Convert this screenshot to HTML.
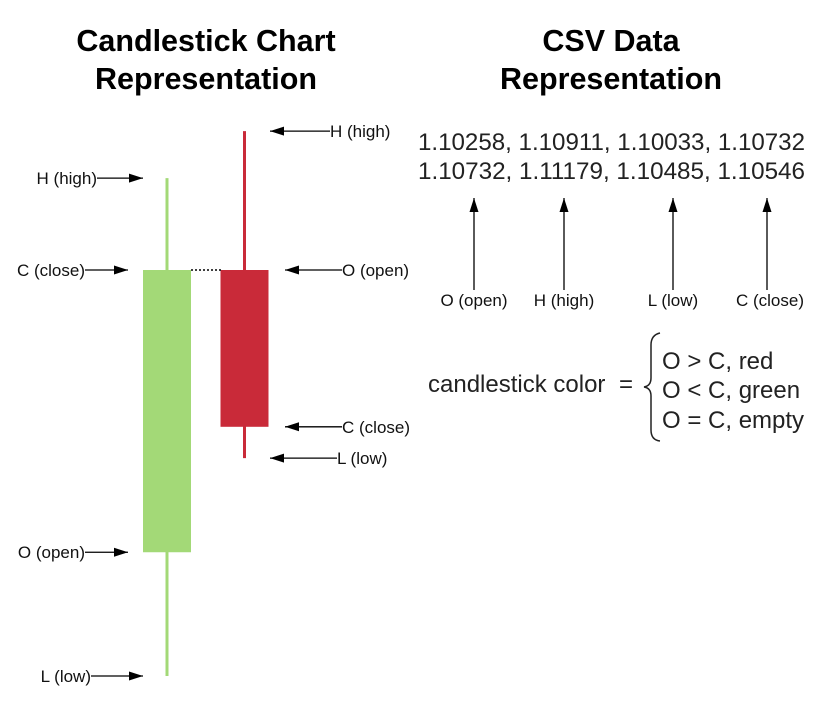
<!DOCTYPE html>
<html><head><meta charset="utf-8"><style>
html,body{margin:0;padding:0;background:#fff;}
svg{display:block;font-family:"Liberation Sans",sans-serif;}
</style></head><body>
<svg id="chart" width="826" height="702" viewBox="0 0 826 702">
<defs><marker id="ah" viewBox="0 0 14 10" refX="14" refY="5" markerWidth="14" markerHeight="10" markerUnits="userSpaceOnUse" orient="auto"><path d="M0,0.5 L14,5 L0,9.5 z" fill="#000"/></marker></defs>
<g font-weight="bold" font-size="30.5" text-anchor="middle" fill="#000">
<text x="206" y="51">Candlestick Chart</text><text x="206" y="89">Representation</text></g>
<g font-weight="bold" font-size="30.5" text-anchor="middle" fill="#000">
<text x="611" y="51">CSV Data</text><text x="611" y="89">Representation</text></g>
<g id="candles"></g>
<line x1="191" y1="270" x2="221" y2="270" stroke="#000" stroke-width="1.5" stroke-dasharray="2,2"/>
<g id="labels" font-size="17" fill="#111"></g>
<g font-size="24" fill="#222">
<text x="418" y="150" textLength="387" lengthAdjust="spacingAndGlyphs">1.10258, 1.10911, 1.10033, 1.10732</text>
<text x="418" y="179" textLength="387" lengthAdjust="spacingAndGlyphs">1.10732, 1.11179, 1.10485, 1.10546</text></g>
<g font-size="17" fill="#111" text-anchor="middle">
<text x="474" y="306">O (open)</text><text x="564" y="306">H (high)</text><text x="673" y="306">L (low)</text><text x="770" y="306">C (close)</text></g>
<g stroke="#000" stroke-width="1.3">
<line x1="474" y1="290" x2="474" y2="198" marker-end="url(#ah)"/><line x1="564" y1="290" x2="564" y2="198" marker-end="url(#ah)"/>
<line x1="673" y1="290" x2="673" y2="198" marker-end="url(#ah)"/><line x1="767" y1="290" x2="767" y2="198" marker-end="url(#ah)"/></g>
<text x="428" y="392" font-size="24" fill="#222">candlestick color</text>
<text x="619" y="392" font-size="24" fill="#222">=</text>
<path d="M660,333 Q651,335 651,345 L651,378 Q651,386 644,387 Q651,388 651,396 L651,430 Q651,440 660,441" fill="none" stroke="#222" stroke-width="1.5"/>
<g font-size="24" fill="#222">
<text x="662" y="369">O &gt; C, red</text><text x="662" y="398">O &lt; C, green</text><text x="662" y="428">O = C, empty</text></g>
</svg>
<script>
const candleNames=["green-candle","red-candle"];
const opens=[24.6,75];
const highs=[91.4,99.8];
const lows=[2.5,41.4];
const closes=[75,47];
const ns="http://www.w3.org/2000/svg";
const y=v=>690-5.6*v;
const cx=[167,244.5], bw=48;
const g=document.getElementById('candles');
function mk(t,a){const e=document.createElementNS(ns,t);for(const k in a)e.setAttribute(k,a[k]);return e;}
for(let i=0;i<opens.length;i++){
  const col=closes[i]>=opens[i]?"#a3d977":"#c92a39";
  const w=mk('line',{x1:cx[i],x2:cx[i],y1:y(highs[i]),y2:y(lows[i]),stroke:col,'stroke-width':3});
  
  
  g.appendChild(w);
  const top=y(Math.max(opens[i],closes[i])),bot=y(Math.min(opens[i],closes[i]));
  const r=mk('rect',{x:cx[i]-bw/2,y:top,width:bw,height:bot-top,fill:col});
  
  
  g.appendChild(r);
}
const L=document.getElementById('labels');
function ann(txt,v,side,xEnd,xStart,tx){
  const yy=y(v);
  const l=mk('line',{x1:xStart,y1:yy,x2:xEnd,y2:yy,stroke:'#000','stroke-width':1.3,'marker-end':'url(#ah)'});
  
  
  L.appendChild(l);
  const t=mk('text',{x:tx,y:yy+6,'text-anchor':side});t.textContent=txt;
  
  
  L.appendChild(t);
}
ann("H (high)",highs[0],"end",143,97,97);
ann("C (close)",closes[0],"end",128,85,85);
ann("O (open)",opens[0],"end",128,85,85);
ann("L (low)",lows[0],"end",143,91,91);
ann("H (high)",highs[1],"start",270,330,330);
ann("O (open)",opens[1],"start",285,342,342);
ann("C (close)",closes[1],"start",285,342,342);
ann("L (low)",lows[1],"start",270,337,337);
</script>
</body></html>
